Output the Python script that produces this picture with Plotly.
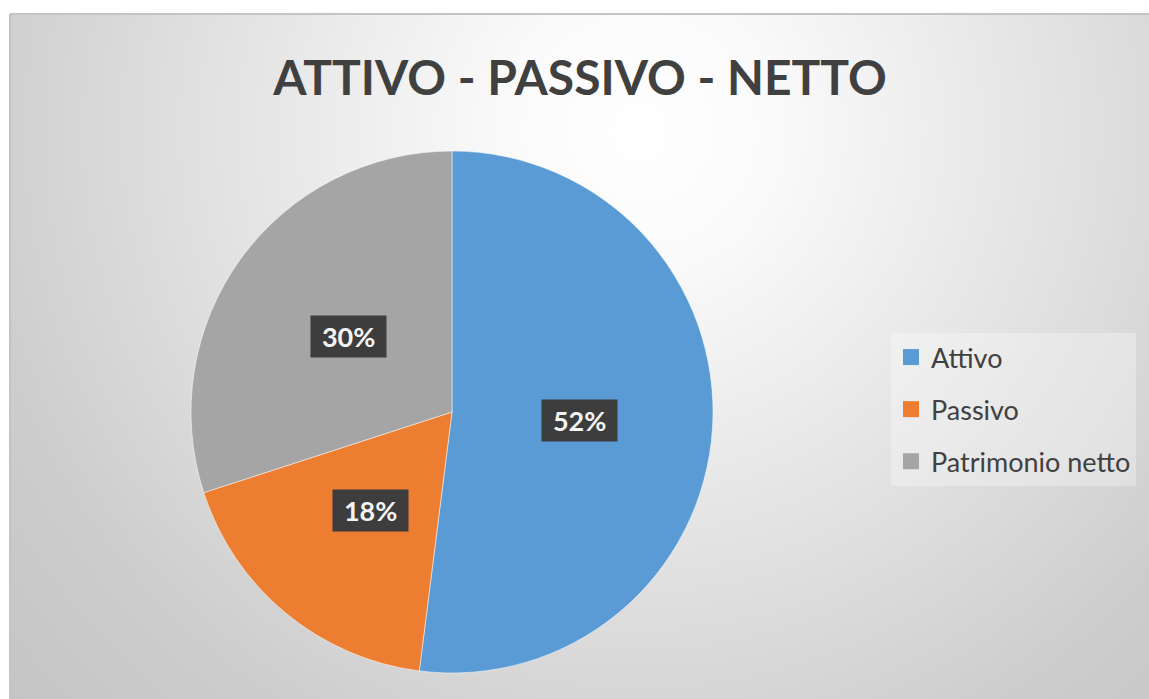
import math
import plotly.graph_objects as go

# Dati del grafico
labels = ["Attivo", "Passivo", "Patrimonio netto"]
values = [52, 18, 30]
colors = ["#5B9BD5", "#ED7D31", "#A5A5A5"]

W, H = 1149, 699
L, T = 10, 14      # chart area origin on screen
PW, PH = W - L, H - T   # plot-area size

# pie placement (screen pixels)
cx, cy, r = 452, 412, 261


def px(sx):
    return (sx - L) / PW


def py(sy):
    return 1 - (sy - T) / PH


fig = go.Figure()

# background: radial grey gradient on a hidden pixel-unit subplot
gx, gy, gr = 640, 130, 900
fig.add_trace(go.Scatter(
    x=[gx - gr, gx + gr, gx + gr, gx - gr, gx - gr],
    y=[gy - gr, gy - gr, gy + gr, gy + gr, gy - gr],
    mode="lines", fill="toself", line=dict(width=0),
    fillgradient=dict(type="radial", colorscale=[
        [0, "#ffffff"], [0.15, "#fafafa"], [0.5, "#e0e0e0"],
        [0.75, "#cdcdcd"], [1, "#c2c2c2"]]),
    hoverinfo="skip", showlegend=False,
))

fig.add_trace(go.Pie(
    labels=labels, values=values,
    marker=dict(colors=colors, line=dict(color="white", width=0.5)),
    sort=False, direction="clockwise", rotation=0,
    textinfo="none", hoverinfo="label+percent",
    showlegend=False,
    domain=dict(x=[px(cx - r), px(cx + r)], y=[py(cy + r), py(cy - r)]),
))

# legend entries with larger gaps
for i, (lab, col) in enumerate(zip(labels, colors)):
    fig.add_trace(go.Scatter(
        x=[None], y=[None], mode="markers", name=lab,
        marker=dict(symbol="square", size=16, color=col),
        legendgroup=str(i), showlegend=True,
    ))

# data labels as dark boxes at mid angle of each slice
total = sum(values)
cum = 0
for v in values:
    mid = (cum + v / 2) / total * 2 * math.pi
    cum += v
    lx = cx + 0.49 * r * math.sin(mid)
    ly = cy - 0.49 * r * math.cos(mid)
    fig.add_annotation(
        x=px(lx), y=py(ly), xref="paper", yref="paper",
        xanchor="center", yanchor="middle",
        text=f"&nbsp;<b>{round(v / total * 100)}%</b>&nbsp;", showarrow=False,
        font=dict(family="Lato", size=27, color="#f4f4f4"),
        bgcolor="#3d3d3d", borderpad=4,
    )

# thin chart border at top and left
fig.add_shape(type="line", xref="paper", yref="paper",
              x0=0, x1=1, y0=1, y1=1, line=dict(color="#c4c4c4", width=2))
fig.add_shape(type="line", xref="paper", yref="paper",
              x0=0, x1=0, y0=0, y1=1, line=dict(color="#c4c4c4", width=2))

fig.update_layout(
    width=W, height=H,
    margin=dict(l=L, r=0, t=T, b=0),
    paper_bgcolor="white", plot_bgcolor="rgba(0,0,0,0)",
    xaxis=dict(range=[L, L + PW], visible=False, fixedrange=True),
    yaxis=dict(range=[T + PH, T], visible=False, fixedrange=True),
    title=dict(text="<b>ATTIVO - PASSIVO - NETTO</b>",
               x=580 / W, xanchor="center",
               y=1 - 78 / H, yanchor="middle",
               font=dict(family="Lato", size=48, color="#404040")),
    legend=dict(x=px(891), y=py(333), xanchor="left", yanchor="top",
                bgcolor="rgba(255,255,255,0.3)", tracegroupgap=14,
                font=dict(family="Lato", size=27, color="#404040"),
                itemwidth=30),
    showlegend=True,
)

fig.write_html(
    "out.html",
    config={"displayModeBar": False},
    post_script="document.body.style.margin='0';"
                "document.body.style.overflow='hidden';",
)
